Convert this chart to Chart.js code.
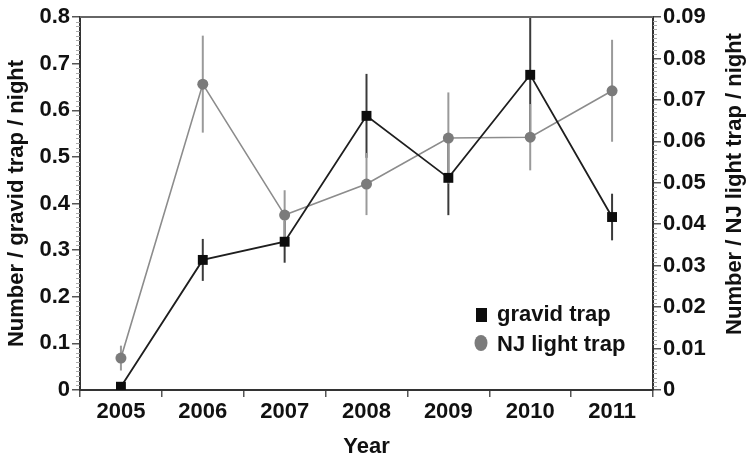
<!DOCTYPE html>
<html>
<head>
<meta charset="utf-8">
<script src="https://cdn.jsdelivr.net/npm/chart.js@4.4.1/dist/chart.umd.min.js"></script>
<style>
  html, body { margin: 0; padding: 0; background: #fff; }
</style>
</head>
<body>
<canvas id="trapChart" width="750" height="461"></canvas>
<script>
// data
const years = ['2005', '2006', '2007', '2008', '2009', '2010', '2011'];
const gravidMean = [0.007, 0.279, 0.318, 0.588, 0.455, 0.676, 0.371];
const gravidErr = [0.004, 0.045, 0.045, 0.09, 0.08, 0.13, 0.05];
const lightMean = [0.0077, 0.0738, 0.0422, 0.0497, 0.0608, 0.061, 0.0722];
const lightErr = [0.003, 0.0117, 0.006, 0.0075, 0.011, 0.008, 0.0123];
const leftTicks = [0, 0.1, 0.2, 0.3, 0.4, 0.5, 0.6, 0.7, 0.8];
const rightTicks = [0, 0.01, 0.02, 0.03, 0.04, 0.05, 0.06, 0.07, 0.08, 0.09];

const fam = '"Liberation Sans", Arial, Helvetica, sans-serif';
const bold = { family: fam, size: 22, weight: 'bold', lineHeight: 1.2 };

// vertical error bars, drawn under the lines
const errorBars = {
  id: 'errorBars',
  beforeDatasetsDraw(chart) {
    const ctx = chart.ctx;
    const a = chart.chartArea;
    ctx.save();
    ctx.beginPath();
    ctx.rect(a.left, a.top, a.right - a.left, a.bottom - a.top);
    ctx.clip();
    chart.data.datasets.forEach((ds, i) => {
      const meta = chart.getDatasetMeta(i);
      const ys = chart.scales[ds.yAxisID];
      ctx.strokeStyle = ds.errColor;
      ctx.lineWidth = 2;
      meta.data.forEach((pt, j) => {
        const v = ds.data[j], e = ds.errors[j];
        ctx.beginPath();
        ctx.moveTo(pt.x, ys.getPixelForValue(v + e));
        ctx.lineTo(pt.x, ys.getPixelForValue(v - e));
        ctx.stroke();
      });
    });
    ctx.restore();
  }
};

// frame top, minor ticks, right title, legend
const extras = {
  id: 'extras',
  afterDraw(chart) {
    const ctx = chart.ctx;
    const a = chart.chartArea;
    const y = chart.scales.y, y1 = chart.scales.y1;
    ctx.save();
    ctx.strokeStyle = '#666';
    ctx.lineWidth = 2;
    ctx.beginPath();
    ctx.moveTo(a.left, a.top);
    ctx.lineTo(a.right, a.top);
    ctx.stroke();

    // minor ticks
    ctx.strokeStyle = '#aaa';
    ctx.lineWidth = 1;
    for (let k = 0; k <= 80; k++) {
      if (k % 10 === 0) continue;
      const py = Math.round(y.getPixelForValue(k * 0.01)) + 0.5;
      ctx.beginPath();
      ctx.moveTo(a.left, py);
      ctx.lineTo(a.left - 4, py);
      ctx.stroke();
    }
    for (let k = 0; k <= 90; k++) {
      if (k % 10 === 0) continue;
      const py = Math.round(y1.getPixelForValue(k * 0.001)) + 0.5;
      ctx.beginPath();
      ctx.moveTo(a.right, py);
      ctx.lineTo(a.right + 4, py);
      ctx.stroke();
    }

    // right axis title, reading upward
    ctx.fillStyle = '#111';
    ctx.font = 'bold 22px ' + fam;
    ctx.textAlign = 'center';
    ctx.textBaseline = 'middle';
    ctx.translate(735, 184);
    ctx.rotate(-Math.PI / 2);
    ctx.fillText('Number / NJ light trap / night', 0, 0);
    ctx.setTransform(1, 0, 0, 1, 0, 0);

    // legend
    const ds = chart.data.datasets;
    ctx.fillStyle = ds[0].pointBackgroundColor;
    ctx.fillRect(476, 308, 11, 14);
    ctx.fillStyle = ds[1].pointBackgroundColor;
    ctx.beginPath();
    ctx.ellipse(481, 343, 6.5, 8, 0, 0, Math.PI * 2);
    ctx.fill();
    ctx.fillStyle = '#111';
    ctx.textAlign = 'left';
    ctx.fillText(ds[0].label, 497, 315);
    ctx.fillText(ds[1].label, 497, 345);
    ctx.restore();
  }
};

const trapChart = new Chart(document.getElementById('trapChart'), {
  type: 'line',
  data: {
    labels: years,
    datasets: [
      {
        label: 'gravid trap',
        data: gravidMean,
        errors: gravidErr,
        errColor: '#3a3a3a',
        yAxisID: 'y',
        borderColor: '#1e1e1e',
        borderWidth: 1.8,
        pointStyle: 'rect',
        pointRadius: 7,
        pointBackgroundColor: '#0d0d0d',
        pointBorderWidth: 0,
        tension: 0
      },
      {
        label: 'NJ light trap',
        data: lightMean,
        errors: lightErr,
        errColor: '#9a9a9a',
        yAxisID: 'y1',
        borderColor: '#8c8c8c',
        borderWidth: 1.6,
        pointStyle: 'circle',
        pointRadius: 5.5,
        pointBackgroundColor: '#7b7b7b',
        pointBorderWidth: 0,
        tension: 0
      }
    ]
  },
  options: {
    responsive: false,
    animation: false,
    layout: { padding: { top: 17, left: 0, right: 0, bottom: 0 } },
    plugins: { legend: { display: false }, tooltip: { enabled: false } },
    scales: {
      x: {
        type: 'category',
        offset: true,
        grid: { offset: true, drawOnChartArea: false, tickLength: 7, color: '#555', lineWidth: 1.5 },
        border: { display: true, color: '#333', width: 2 },
        ticks: { font: bold, color: '#111', padding: 2, maxRotation: 0 },
        title: { display: true, text: 'Year', font: bold, color: '#111', padding: { top: 0, bottom: 1 } },
        afterFit(s) { s.height = 71; }
      },
      y: {
        position: 'left',
        min: 0,
        max: 0.8,
        afterBuildTicks(s) { s.ticks = leftTicks.map(v => ({ value: v })); },
        grid: { drawOnChartArea: false, tickLength: 8, color: '#555', lineWidth: 1.5 },
        border: { display: true, color: '#333', width: 2 },
        ticks: { font: bold, color: '#111', padding: 2, callback: v => v === 0 ? '0' : v.toFixed(1) },
        title: { display: true, text: 'Number / gravid trap / night', font: bold, color: '#111', padding: { top: 4, bottom: 0 } },
        afterFit(s) { s.width = 80; }
      },
      y1: {
        position: 'right',
        min: 0,
        max: 0.09,
        afterBuildTicks(s) { s.ticks = rightTicks.map(v => ({ value: v })); },
        grid: { drawOnChartArea: false, tickLength: 8, color: '#555', lineWidth: 1.5 },
        border: { display: true, color: '#333', width: 2 },
        ticks: { font: bold, color: '#111', padding: 2, callback: v => v === 0 ? '0' : v.toFixed(2) },
        afterFit(s) { s.width = 97; }
      }
    }
  },
  plugins: [errorBars, extras]
});
</script>
</body>
</html>
